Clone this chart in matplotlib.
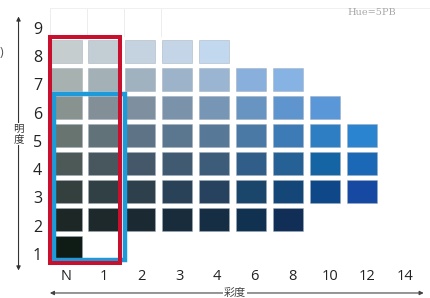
import matplotlib
matplotlib.use("Agg")
import matplotlib.pyplot as plt
from matplotlib.patches import Rectangle

# ---- data ----
chroma_labels = ['N', '1', '2', '3', '4', '6', '8', '10', '12', '14']
value_labels = [1, 2, 3, 4, 5, 6, 7, 8, 9]

# colours of the chips for each value (from chroma N upward)
row8 = ['#c6cdcf', '#c3ced4', '#c4d3df', '#c3d5e7', '#c1d8ef']
row7 = ['#a7b1b0', '#a3b0b6', '#a0b1c0', '#9db3c9', '#9ab5d2', '#89b0dc', '#86b3e3']
row6 = ['#889390', '#828f96', '#7e90a0', '#7b93aa', '#7795b4', '#6894c2', '#5f95ce', '#5a97d8']
row5 = ['#68746f', '#627279', '#5e7386', '#5b768f', '#587897', '#4a79a6', '#3d7bb7', '#2e7ec3', '#2a84cf']
row4 = ['#4d5957', '#48575e', '#455869', '#405a72', '#3d5c7a', '#305e88', '#256194', '#1565a5', '#1a68b6']
row3 = ['#34403e', '#304044', '#2d404c', '#294257', '#26425e', '#1b466c', '#144777', '#0f4888', '#1649a2']
row2 = ['#1d2725', '#1d292a', '#1b2a32', '#182c3b', '#152e44', '#10314f', '#112f56']
row1 = ['#0f1b15']
rows = {1: row1, 2: row2, 3: row3, 4: row4, 5: row5, 6: row6, 7: row7, 8: row8}
empty_row9_cols = [0, 1, 2]

hue_text = 'Hue=5PB'
value_axis_label = '明度'
chroma_axis_label = '彩度'

# frames: (first col, last col, lowest value, highest value)
red_frame = (0, 1, 1, 8)
blue_frame = (0, 1, 1, 6)

# ---- figure ----
W, H, DPI = 430, 298, 100
fig = plt.figure(figsize=(W / DPI, H / DPI), dpi=DPI)
ax = fig.add_axes([0, 0, 1, 1])
ax.set_xlim(-1.802, 9.851)
ax.set_ylim(-0.804, 9.839)
ax.axis('off')

cw, ch = 0.815, 0.82
for v, cols in rows.items():
    xs = list(range(len(cols)))
    ax.bar(xs, [ch] * len(cols), width=cw, bottom=[v - ch / 2] * len(cols),
           color=cols, edgecolor=(0.62, 0.67, 0.72, 0.55), linewidth=0.6, zorder=2)

# faint empty row 9 outline
for c in empty_row9_cols + [3]:
    ax.plot([c - 0.45, c - 0.45], [8.55, 9.55], color='#ededed', lw=0.7, zorder=1)
ax.plot([-0.45, 9.85], [9.55, 9.55], color='#f0f0f0', lw=0.7, zorder=1)

# frames
def frame(spec, lpad, rpad, bpad, tpad, color, lw, z):
    c0, c1, v0, v1 = spec
    x0, x1 = c0 - lpad, c1 + rpad
    y0, y1 = v0 - bpad, v1 + tpad
    ax.add_patch(Rectangle((x0, y0), x1 - x0, y1 - y0, fill=False,
                           edgecolor=color, lw=lw, zorder=z, joinstyle='miter'))

frame(blue_frame, 0.34, 0.585, 0.446, 0.482, '#1f9ad9', 3.2, 3)
frame(red_frame, 0.447, 0.45, 0.554, 0.518, '#c8102e', 2.9, 4)

font = 'Open Sans'
# tick labels
for i, lab in enumerate(chroma_labels):
    ax.text(i * 1.019, -0.02, lab, ha='center', va='center', fontsize=10.5,
            color='#222222', family=font)
for v in value_labels:
    ax.text(-0.786, v * 1.009 - 0.31, str(v), ha='center', va='center', fontsize=11.5,
            color='#222222', family=font)

# axis arrows
ax.annotate('', xy=(-1.30, 9.25), xytext=(-1.30, 5.3),
            arrowprops=dict(arrowstyle='-|>', color='#333333', lw=0.8,
                            mutation_scale=6, shrinkA=0, shrinkB=0))
ax.annotate('', xy=(-1.30, 0.18), xytext=(-1.30, 4.8),
            arrowprops=dict(arrowstyle='-|>', color='#333333', lw=0.8,
                            mutation_scale=6, shrinkA=0, shrinkB=0))
ax.text(-1.30, 5.05, '明\n度', ha='center', va='center', fontsize=7.5,
        color='#333333', family='Noto Sans CJK JP', linespacing=1.0,
        bbox=dict(facecolor='white', edgecolor='none', pad=0.5), zorder=5)

ax.annotate('', xy=(-0.45, -0.625), xytext=(4.3, -0.625),
            arrowprops=dict(arrowstyle='-|>', color='#444444', lw=0.8,
                            mutation_scale=6, shrinkA=0, shrinkB=0))
ax.annotate('', xy=(9.68, -0.625), xytext=(4.8, -0.625),
            arrowprops=dict(arrowstyle='-|>', color='#444444', lw=0.8,
                            mutation_scale=6, shrinkA=0, shrinkB=0))
ax.text(4.566, -0.625, chroma_axis_label, ha='center', va='center', fontsize=8,
        color='#444444', family='Noto Sans CJK JP',
        bbox=dict(facecolor='white', edgecolor='none', pad=0.5), zorder=5)

ax.text(8.28, 9.375, hue_text, ha='center', va='center', fontsize=7,
        color='#a8a8a8', family='DejaVu Serif')
ax.text(-1.76, 7.98, ')', ha='center', va='center', fontsize=9,
        color='#555555', family=font)

fig.savefig('out.png', dpi=DPI)
